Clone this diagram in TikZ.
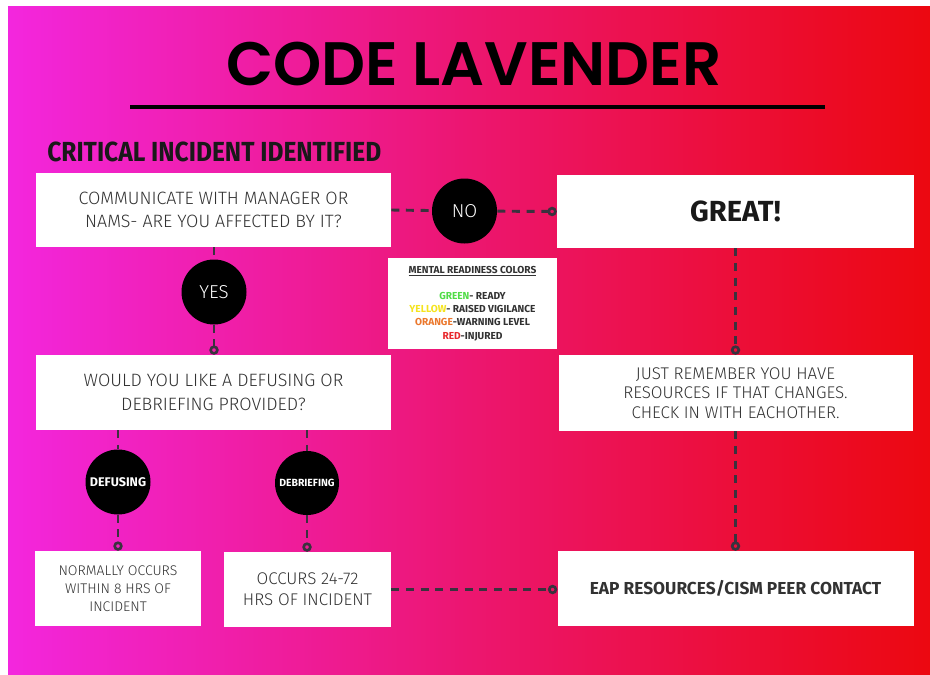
\documentclass[tikz,border=0pt]{standalone}
\usepackage{fontspec}
\setmainfont{Fira Sans Light}[BoldFont={Fira Sans Bold}]
\newfontfamily\headfont{Poppins SemiBold}
\newfontfamily\condfont{Fira Sans}[FakeStretch=0.89]
\usepackage{tikz}
\usetikzlibrary{arrows.meta}
\definecolor{lavmagenta}{RGB}{243,38,222}
\definecolor{lavpink}{RGB}{236,22,112}
\definecolor{lavred}{RGB}{236,8,16}
\definecolor{inkgray}{RGB}{50,50,50}
\definecolor{linkgray}{RGB}{58,50,62}
\definecolor{mrgreen}{RGB}{80,220,70}
\definecolor{mryellow}{RGB}{245,228,30}
\definecolor{mrorange}{RGB}{235,120,45}
\definecolor{mrred}{RGB}{232,40,45}
\newcommand{\fs}[2]{\fontsize{#1}{#2}\selectfont}

\begin{document}
\begin{tikzpicture}[x=0.75pt,y=-0.75pt,
    card/.style={fill=white, text=inkgray, align=center, inner sep=0pt},
    badge/.style={circle, fill=black, text=white, inner sep=0pt, minimum size=48.75pt},
    link/.style={draw=linkgray, line width=2.2pt, dash pattern=on 6pt off 5pt},
    plug/.style={link, -{Circle[open, length=7pt, width=7pt, line width=2pt]}}]
    % Fondo con degradado
    \fill[white] (0,0) rectangle (930,674);
    \shade[left color=lavmagenta, right color=lavred, middle color=lavpink] (8,7) rectangle (930,674);
    % Titulo
    \node[font=\headfont\fs{46}{50}, text=black] (title) at (474,64) {CODE LAVENDER};
    \draw[line width=2.6pt] (130,107) -- (825,107);
    \node[font=\condfont\bfseries\fs{20.7}{24}, text=black!90, anchor=west, inner sep=0pt] (critical) at (47,152) {CRITICAL INCIDENT IDENTIFIED};
    % Columna izquierda
    \node[card, minimum width=266.25pt, minimum height=55.5pt, font=\fs{13.4}{17.25}] (ask) at (213.5,210)
      {COMMUNICATE WITH MANAGER OR\\NAMS- ARE YOU AFFECTED BY IT?};
    \node[badge, font=\fs{14}{16}] (yes) at (214,292) {YES};
    \node[card, minimum width=266.25pt, minimum height=56.25pt, font=\fs{13.4}{18}] (offer) at (213.5,392.5)
      {WOULD YOU LIKE A DEFUSING OR\\DEBRIEFING PROVIDED?};
    \node[badge, font=\bfseries\fs{9.4}{11}] (defusing) at (118,482) {DEFUSING};
    \node[badge, minimum size=48pt, font=\bfseries\fs{7.8}{9}] (debriefing) at (307,483) {DEBRIEFING};
    \node[card, minimum width=124.5pt, minimum height=56.25pt, font=\fs{10.5}{13.3}] (within) at (118,588.5)
      {NORMALLY OCCURS\\WITHIN 8 HRS OF\\INCIDENT};
    \node[card, minimum width=125.25pt, minimum height=56.25pt, font=\fs{12.7}{16}] (later) at (307.5,589.5)
      {OCCURS 24-72\\HRS OF INCIDENT};
    % Centro
    \node[badge, font=\fs{14}{16}] (no) at (464.5,211) {NO};
    \node[card, minimum width=126.75pt, minimum height=68.25pt, font=\bfseries\fs{7.6}{10}] (colors) at (472.5,303.5)
      {\underline{MENTAL READINESS COLORS}\\[9.5pt]
       \textcolor{mrgreen}{GREEN}- READY\\
       \textcolor{mryellow}{YELLOW}- RAISED VIGILANCE\\
       \textcolor{mrorange}{ORANGE}-WARNING LEVEL\\
       \textcolor{mrred}{RED}-INJURED};
    % Columna derecha
    \node[card, minimum width=267.75pt, minimum height=54.75pt, font=\bfseries\fs{21.8}{24}, text=black!90] (great) at (735.5,211.5) {GREAT!};
    \node[card, minimum width=265.5pt, minimum height=57pt, font=\fs{12.7}{14.6}] (remember) at (735.5,393)
      {JUST REMEMBER YOU HAVE\\RESOURCES IF THAT CHANGES.\\CHECK IN WITH EACHOTHER.};
    \node[card, minimum width=267pt, minimum height=56.25pt, font=\bfseries\fs{13}{15}] (eap) at (735.5,588.5)
      {EAP RESOURCES/CISM PEER CONTACT};
    % Conectores
    \draw[link] (ask.east) -- (no);
    \draw[plug] (no) -- (great.west);
    \draw[link] (ask.south -| yes) -- (yes);
    \draw[plug] (yes) -- (yes |- offer.north);
    \draw[link] (offer.south -| defusing) -- (defusing);
    \draw[plug] (defusing) -- (defusing |- within.north);
    \draw[link] (offer.south -| debriefing) -- (debriefing);
    \draw[plug] (debriefing) -- (debriefing |- later.north);
    \draw[plug] (great.south) -- (remember.north);
    \draw[plug] (remember.south) -- (eap.north);
    \draw[plug] (later.east) -- (later.east -| eap.west);
\end{tikzpicture}
\end{document}
